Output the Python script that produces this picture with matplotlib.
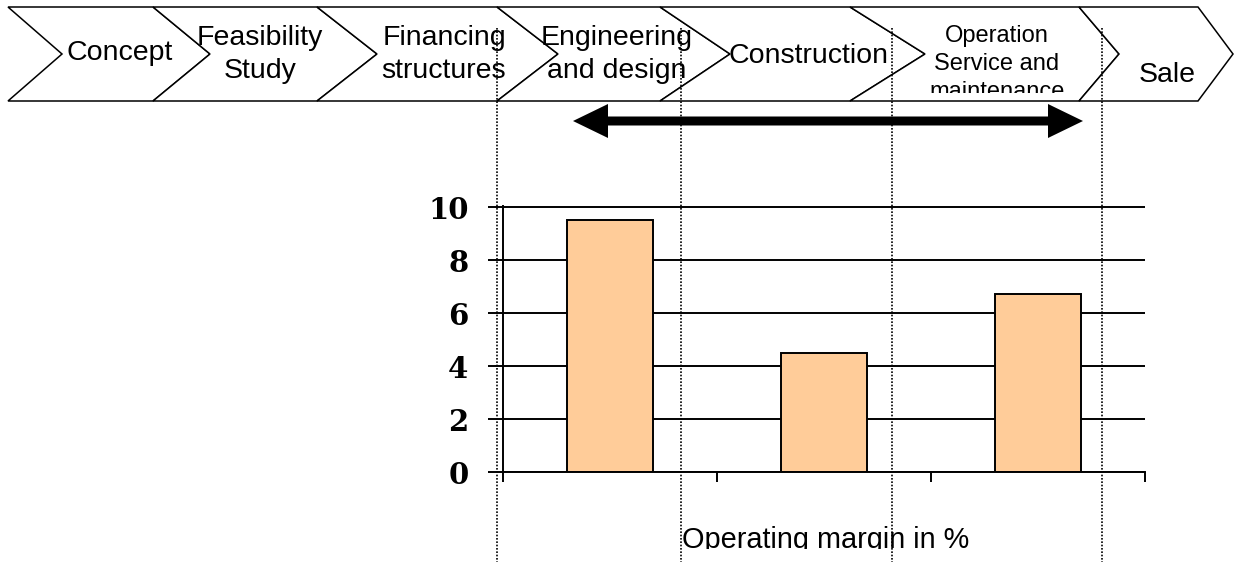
import matplotlib
matplotlib.use("Agg")
import matplotlib.pyplot as plt
from matplotlib.patches import Polygon, FancyArrow, Rectangle

# value chain stages, left to right
stages = ["Concept", "Feasibility\nStudy", "Financing\nstructures",
          "Engineering\nand design", "Construction",
          "Operation\nService and\nmaintenance", "Sale"]

# operating margin in % for the three segments under the arrow
margins = [9.5, 4.5, 6.7]
y_ticks = [0, 2, 4, 6, 8, 10]
x_label = "Operating margin in %"

plt.rcParams["font.family"] = ["Liberation Sans", "DejaVu Sans"]

W, H = 1234, 562
fig = plt.figure(figsize=(W / 100, H / 100), dpi=100)

# bar chart
ax = fig.add_axes([503 / W, (H - 472) / H, (1145 - 503) / W, (472 - 206) / H])
pos = [i + 0.5 for i in range(len(margins))]
ax.bar(pos, margins, width=0.4, color="#FFCC99", edgecolor="black",
       linewidth=1.4, zorder=2)
ax.set_xlim(0, len(margins))
ax.set_ylim(0, 10.04)
ax.set_yticks(y_ticks)
ax.set_xticks(range(len(margins) + 1))
ax.set_xticklabels([])
ax.yaxis.grid(True, color="black", linewidth=1.4)
ax.set_axisbelow(True)
for s in ["top", "right"]:
    ax.spines[s].set_visible(False)
for s in ["left", "bottom"]:
    ax.spines[s].set_linewidth(1.4)
ax.tick_params(axis="y", direction="out", length=10.8, width=1.4, pad=14,
               labelsize=21)
ax.tick_params(axis="x", direction="out", length=7.2, width=1.4)
for lab in ax.get_yticklabels():
    lab.set_fontfamily("DejaVu Serif")
    lab.set_fontweight("bold")

# overlay in pixel coordinates for the chevrons, arrow and guides
ov = fig.add_axes([0, 0, 1, 1])
ov.set_xlim(0, W)
ov.set_ylim(H, 0)
ov.axis("off")

edges = [8, 153, 317, 497, 660, 850, 1079, 1198]
tips = [57, 60, 61, 70, 75, 40, 35]
top, mid, bot = 7, 54, 101
text_x = [120, 260, 444, 617, 809, 997, 1167]
text_base = [60, 78, 78, 78, 63, 98, 82]   # baseline of the last line
text_size = [20.5, 20.5, 20.5, 20.5, 20.5, 17, 20.5]

for i, name in enumerate(stages):
    L, R = edges[i], edges[i + 1]
    notch = 54 if i == 0 else tips[i - 1]
    verts = [(L, top), (R, top), (R + tips[i], mid), (R, bot), (L, bot),
             (L + notch, mid)]
    ov.add_patch(Polygon(verts, closed=True, facecolor="white",
                         edgecolor="black", linewidth=1.1, zorder=1))
    t = ov.text(text_x[i], text_base[i], name, ha="center", va="baseline",
                fontsize=text_size[i], linespacing=1.36, zorder=3)
    if i == 5:
        # the last line is cut off by its text box
        clip = Rectangle((L, top), R - L, 93 - top, transform=ov.transData)
        t.set_clip_path(clip)
        t.set_clip_on(True)

# double-headed arrow
x0, x1, ya = 573, 1083, 121
xm = (x0 + x1) / 2
for end in (x0, x1):
    ov.add_patch(FancyArrow(xm, ya, end - xm, 0, width=9, head_width=34,
                            head_length=35, length_includes_head=True,
                            color="black", linewidth=0, zorder=4))

# dotted guide lines
ov.vlines([497, 681, 892, 1102], 28, H, colors="black",
          linestyles=(0, (1, 1)), linewidth=1.2, zorder=2)

lab = ov.text(826, 548, x_label, ha="center", va="baseline", fontsize=20.8)
lab.set_clip_path(Rectangle((0, 0), W, 549, transform=ov.transData))
lab.set_clip_on(True)

fig.savefig("out.png", dpi=100)
